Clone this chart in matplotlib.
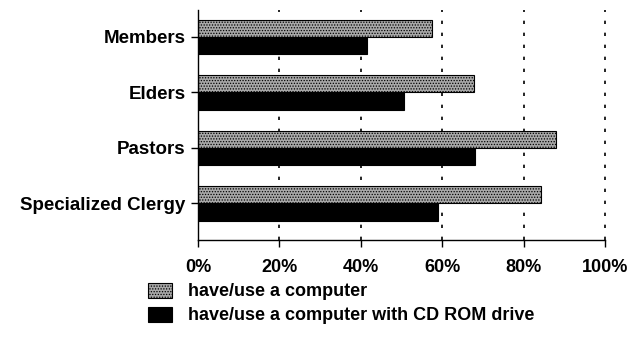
import matplotlib.pyplot as plt
from matplotlib.patches import Rectangle
import numpy as np

plt.rcParams['font.family'] = ['Liberation Sans', 'DejaVu Sans']
plt.rcParams['font.weight'] = 'bold'
plt.rcParams['hatch.linewidth'] = 0.6

groups = ['Members', 'Elders', 'Pastors', 'Specialized Clergy']
computer = [57.5, 67.8, 87.9, 84.2]
cdrom = [41.6, 50.7, 68.0, 59.0]
xticks = [0, 20, 40, 60, 80, 100]
legend_labels = ['have/use a computer', 'have/use a computer with CD ROM drive']

fig = plt.figure(figsize=(6.43, 3.63), dpi=100)
ax = fig.add_axes([0.308, 0.339, 0.633, 0.633])

y = np.arange(len(groups))[::-1]
h = 0.31
ax.barh(y + h/2, computer, height=h, color='#a8a8a8', edgecolor='black',
        linewidth=0.8, hatch='......')
ax.barh(y - h/2, cdrom, height=h, color='black', edgecolor='black', linewidth=0.8)

ax.set_xlim(0, 100)
ax.set_ylim(-0.66, 3.48)
ax.set_xticks(xticks)
ax.set_xticklabels(['%d%%' % t for t in xticks], fontsize=13, fontweight='bold')
ax.set_yticks(y)
ax.set_yticklabels(groups, fontsize=13.5, fontweight='bold')
ax.tick_params(axis='both', length=5, width=1, direction='out', pad=4)
ax.tick_params(axis='x', pad=9)

# dotted vertical grid
for t in xticks[1:]:
    ax.axvline(t, color='black', linestyle=(0, (2, 5.2)), linewidth=1.2, zorder=0,
               clip_on=False)

ax.spines['top'].set_visible(False)
ax.spines['right'].set_visible(False)
for s in ['left', 'bottom']:
    ax.spines[s].set_linewidth(1)

# legend drawn in figure coordinates below the axes
fig.patches.append(Rectangle((148/643, 1-298/363), 24/643, 15/363, transform=fig.transFigure,
                             facecolor='#a8a8a8', edgecolor='black', linewidth=0.8, hatch='......'))
fig.patches.append(Rectangle((148/643, 1-322/363), 24/643, 15/363, transform=fig.transFigure,
                             facecolor='black', edgecolor='black', linewidth=0.8))
fig.text(188/643, 1-291/363, legend_labels[0], fontsize=13, fontweight='bold', va='center')
fig.text(188/643, 1-315/363, legend_labels[1], fontsize=13, fontweight='bold', va='center')

fig.savefig('out.png', dpi=100)
